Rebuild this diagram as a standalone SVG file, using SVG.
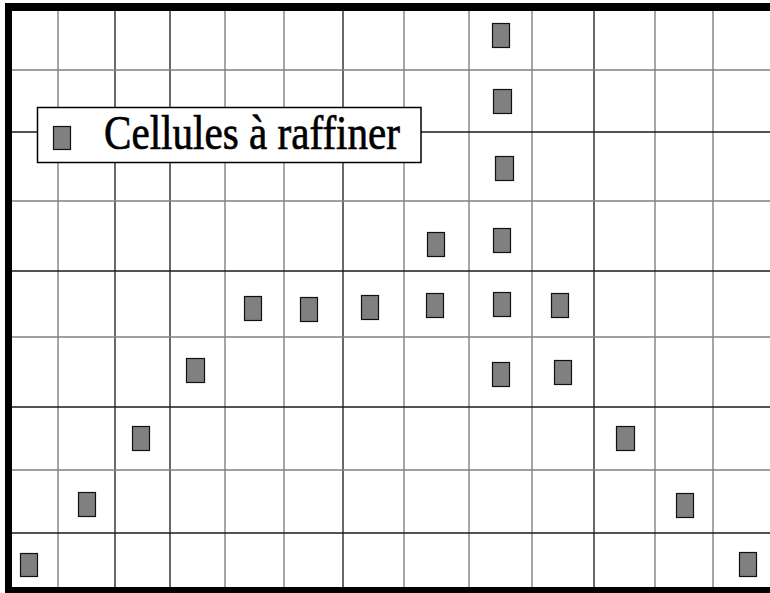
<svg xmlns="http://www.w3.org/2000/svg" width="770" height="593" viewBox="0 0 770 593">
<style>
.g{stroke:#808080;stroke-width:1.4;fill:none}
.k{stroke:#1a1a1a;stroke-width:1.3;fill:none}
.cell{fill:#808080;stroke:#111;stroke-width:1.2}
.lbl{font-family:"Liberation Serif","Times New Roman",serif;font-size:49px;fill:#000;stroke:#000;stroke-width:0.7}
</style>
<rect width="770" height="593" fill="#fff"/>
<g id="grid">
<path class="g" d="M58 11V587M225 11V587M284 11V587M404 11V587M469 11V587M532 11V587M655 11V587M713 11V587"/>
<path class="k" d="M115 11V587M170 11V587M343 11V587M594 11V587"/>
<path class="g" d="M12 70H770M12 201H770M12 337H770M12 470H770"/>
<path class="k" d="M12 132H770M12 271H770M12 407H770M12 533H770"/>
</g>
<g id="border" fill="#000">
<rect x="5" y="3" width="7" height="590"/>
<rect x="5" y="3" width="765" height="8"/>
<rect x="5" y="587" width="765" height="6"/>
</g>
<g id="cells">
<rect class="cell" x="492.5" y="23.5" width="17" height="24"/>
<rect class="cell" x="493.5" y="89.5" width="18" height="24"/>
<rect class="cell" x="495.5" y="156.5" width="18" height="24"/>
<rect class="cell" x="427.5" y="232.5" width="17" height="24"/>
<rect class="cell" x="493.5" y="228.5" width="17" height="24"/>
<rect class="cell" x="244.5" y="296.5" width="17" height="24"/>
<rect class="cell" x="300.5" y="297.5" width="17" height="24"/>
<rect class="cell" x="361.5" y="295.5" width="17" height="24"/>
<rect class="cell" x="426.5" y="293.5" width="17" height="24"/>
<rect class="cell" x="493.5" y="292.5" width="17" height="24"/>
<rect class="cell" x="551.5" y="293.5" width="17" height="24"/>
<rect class="cell" x="186.5" y="358.5" width="18" height="24"/>
<rect class="cell" x="492.5" y="362.5" width="17" height="24"/>
<rect class="cell" x="554.5" y="360.5" width="17" height="24"/>
<rect class="cell" x="132.5" y="426.5" width="17" height="24"/>
<rect class="cell" x="616.5" y="426.5" width="18" height="24"/>
<rect class="cell" x="78.5" y="492.5" width="17" height="24"/>
<rect class="cell" x="676.5" y="493.5" width="17" height="24"/>
<rect class="cell" x="20.5" y="553.5" width="17" height="23"/>
<rect class="cell" x="739.5" y="552.5" width="17" height="24"/>
</g>
<g id="legend">
<rect x="37.5" y="107.5" width="383.5" height="55" fill="#fff" stroke="#000" stroke-width="1.5"/>
<rect class="cell" x="53.5" y="126.5" width="17" height="23"/>
<text class="lbl" x="104" y="149" textLength="296" lengthAdjust="spacingAndGlyphs">Cellules à raffiner</text>
</g>
</svg>
